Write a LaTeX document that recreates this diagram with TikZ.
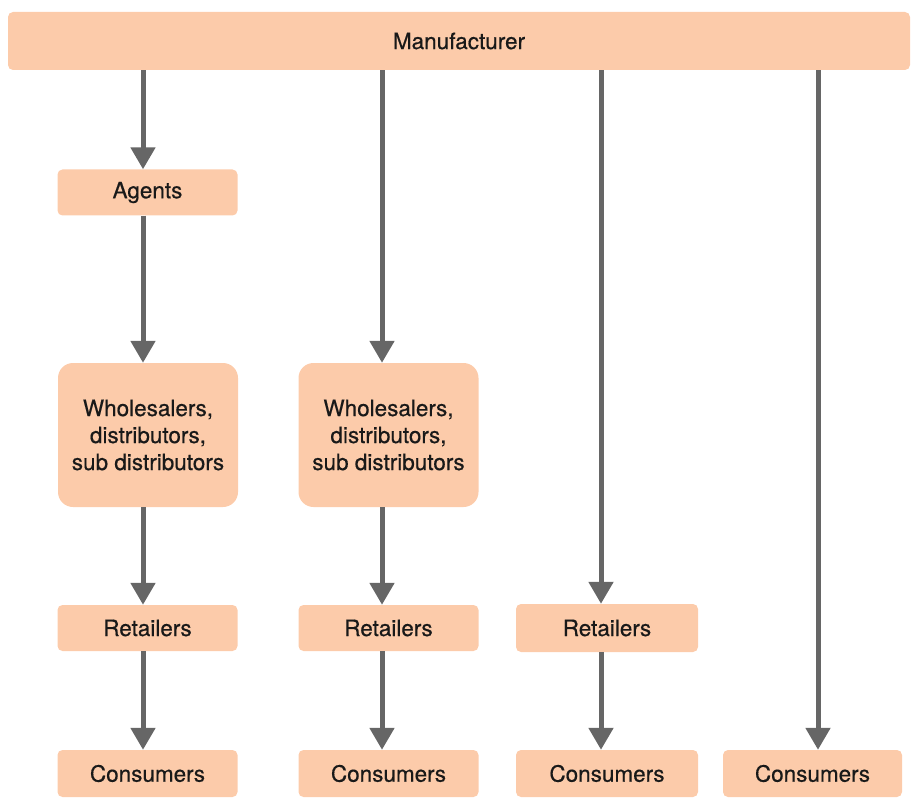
\documentclass[tikz,border=0pt]{standalone}
\usepackage{fontspec}
\setmainfont{TeX Gyre Heros}
\newfontfamily\lblfont{TeX Gyre Heros}[FakeBold=0.5]
\usetikzlibrary{arrows.meta}
\definecolor{peach}{HTML}{FCCBAA}
\definecolor{arr}{HTML}{666666}
\begin{document}
\begin{tikzpicture}[x=1pt,y=-1pt,
  box/.style={fill=peach,draw=none,rounded corners=5pt,inner sep=0pt,align=center,
    font=\lblfont\fontsize{22.5}{27}\selectfont,text=black!90,minimum width=180pt,minimum height=46pt},
  bigbox/.style={box,rounded corners=15pt,minimum height=144pt},
  flow/.style={draw=arr,line width=5pt,-{Triangle[width=24pt,length=22pt]}}]
\useasboundingbox (0,0) rectangle (913,805);
\node[box,minimum width=902pt,minimum height=58pt] (man) at (459,41) {Manufacturer};
\node[box] (ag) at (147.5,192.5) {Agents};
\node[bigbox] (wh1) at (148,435) {Wholesalers,\\distributors,\\sub distributors};
\node[bigbox] (wh2) at (388.5,435) {Wholesalers,\\distributors,\\sub distributors};
\node[box] (re1) at (147.5,628) {Retailers};
\node[box] (re2) at (388.5,628) {Retailers};
\node[box,minimum width=182pt,minimum height=48pt] (re3) at (607,628) {Retailers};
\node[box,minimum height=47pt] (co1) at (147.5,773.5) {Consumers};
\node[box,minimum height=47pt] (co2) at (388.5,773.5) {Consumers};
\node[box,minimum width=182pt,minimum height=47pt] (co3) at (607,773.5) {Consumers};
\node[box,minimum width=179pt,minimum height=47pt] (co4) at (812.5,773.5) {Consumers};
\coordinate (c1) at (143,0);
\coordinate (c2) at (382,0);
\coordinate (c3) at (601,0);
\coordinate (c4) at (818,0);
\draw[flow] (man.south -| c1) -- (ag.north -| c1);
\draw[flow] (ag.south -| c1) -- (wh1.north -| c1);
\draw[flow] (wh1.south -| c1) -- (re1.north -| c1);
\draw[flow] (re1.south -| c1) -- (co1.north -| c1);
\draw[flow] (man.south -| c2) -- (wh2.north -| c2);
\draw[flow] (wh2.south -| c2) -- (re2.north -| c2);
\draw[flow] (re2.south -| c2) -- (co2.north -| c2);
\draw[flow] (man.south -| c3) -- (re3.north -| c3);
\draw[flow] (re3.south -| c3) -- (co3.north -| c3);
\draw[flow] (man.south -| c4) -- (co4.north -| c4);
\end{tikzpicture}
\end{document}
